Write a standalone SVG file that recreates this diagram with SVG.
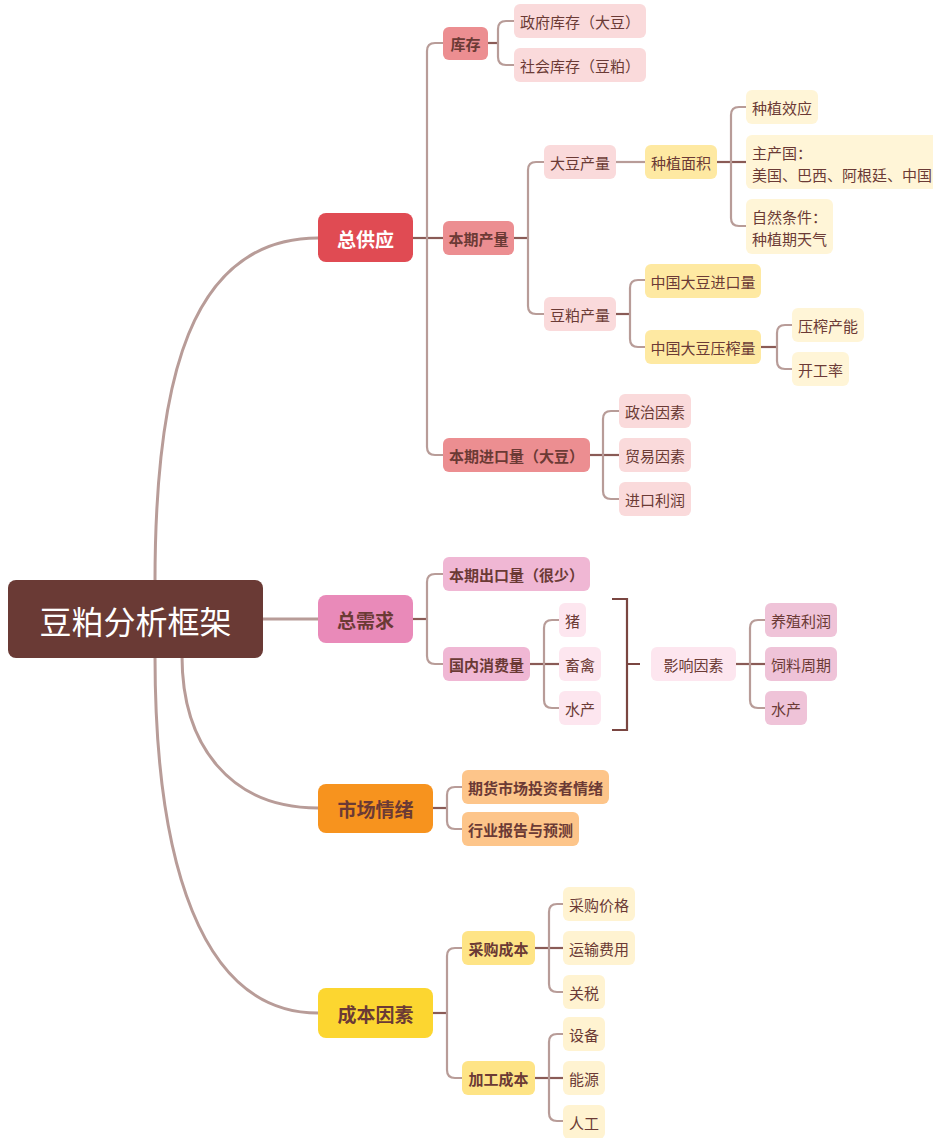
<svg xmlns="http://www.w3.org/2000/svg" width="933" height="1138" viewBox="0 0 933 1138">
<style>
text{font-family:"Noto Sans CJK SC","Noto Sans",sans-serif;dominant-baseline:central;fill:#6b3a35}
.t3{font-size:15px}
.t2{font-size:15px;font-weight:600}
.t1{font-size:19px;font-weight:bold}
.main{fill:none;stroke:#b89c98;stroke-width:3;stroke-linecap:round}
.br{fill:none;stroke:#b89c98;stroke-width:2.2}
.stub{fill:none;stroke:#8a5b56;stroke-width:2.2}
.brk{fill:none;stroke:#7a4641;stroke-width:2.2}
</style>
<rect width="933" height="1138" fill="#ffffff"/>
<g id="connectors">
<path class="main" d="M155 582 C155 380 190 238 318 238"/>
<path class="main" d="M263 619 H318"/>
<path class="main" d="M182 656 C182 745 230 808 318 808"/>
<path class="main" d="M155 656 C155 860 200 1013 318 1013"/>
<path class="stub" d="M413 238 H443"/>
<path class="br" d="M427 238 V51 Q427 43 435 43 H443"/>
<path class="br" d="M427 238 V447 Q427 455 435 455 H443"/>
<path class="stub" d="M488 43 H498"/>
<path class="br" d="M498 43 V29 Q498 21 506 21 H514"/>
<path class="br" d="M498 43 V57 Q498 65 506 65 H514"/>
<path class="stub" d="M514 238 H528"/>
<path class="br" d="M528 238 V170 Q528 162 536 162 H544"/>
<path class="br" d="M528 238 V306 Q528 314 536 314 H544"/>
<path class="br" d="M616 162 H645"/>
<path class="stub" d="M717 162 H746"/>
<path class="br" d="M731 162 V115 Q731 107 739 107 H746"/>
<path class="br" d="M731 162 V218 Q731 226 739 226 H746"/>
<path class="stub" d="M616 314 H630"/>
<path class="br" d="M630 314 V288 Q630 280 638 280 H645"/>
<path class="br" d="M630 314 V339 Q630 347 638 347 H645"/>
<path class="stub" d="M761 347 H777"/>
<path class="br" d="M777 347 V333 Q777 325 785 325 H792"/>
<path class="br" d="M777 347 V361 Q777 369 785 369 H792"/>
<path class="stub" d="M590 455 H619"/>
<path class="br" d="M603 455 V419 Q603 411 611 411 H619"/>
<path class="br" d="M603 455 V491 Q603 499 611 499 H619"/>
<path class="stub" d="M413 619 H427"/>
<path class="br" d="M427 619 V582 Q427 574 435 574 H443"/>
<path class="br" d="M427 619 V656 Q427 664 435 664 H443"/>
<path class="stub" d="M530 664 H559"/>
<path class="br" d="M544 664 V628 Q544 620 552 620 H559"/>
<path class="br" d="M544 664 V700 Q544 708 552 708 H559"/>
<path class="brk" d="M612 599 H627 V730 H612 M627 664 H640"/>
<path class="stub" d="M736 664 H765"/>
<path class="br" d="M750 664 V628 Q750 620 758 620 H765"/>
<path class="br" d="M750 664 V700 Q750 708 758 708 H765"/>
<path class="stub" d="M433 808 H447"/>
<path class="br" d="M447 808 V795 Q447 787 455 787 H462"/>
<path class="br" d="M447 808 V821 Q447 829 455 829 H462"/>
<path class="stub" d="M433 1013 H447"/>
<path class="br" d="M447 1013 V956 Q447 948 455 948 H462"/>
<path class="br" d="M447 1013 V1070 Q447 1078 455 1078 H462"/>
<path class="stub" d="M535 948 H563"/>
<path class="br" d="M549 948 V912 Q549 904 557 904 H563"/>
<path class="br" d="M549 948 V984 Q549 992 557 992 H563"/>
<path class="stub" d="M535 1078 H563"/>
<path class="br" d="M549 1078 V1042 Q549 1034 557 1034 H563"/>
<path class="br" d="M549 1078 V1113 Q549 1121 557 1121 H563"/>
</g>

<g id="root"><rect x="8" y="580" width="255" height="78" rx="8" fill="#6a3a35"/><text x="135.5" y="620" text-anchor="middle" style="font-size:32px;fill:#ffffff">豆粕分析框架</text></g>

<g id="n-supply"><rect x="318" y="213" width="95" height="49" rx="8" fill="#e04b53"/><text class="t1" x="365.5" y="238" text-anchor="middle" style="fill:#ffffff">总供应</text></g>
<g id="n-demand"><rect x="318" y="595" width="95" height="48" rx="8" fill="#e98ab9"/><text class="t1" x="365.5" y="619" text-anchor="middle">总需求</text></g>
<g id="n-sentiment"><rect x="318" y="784" width="115" height="49" rx="8" fill="#f7931e"/><text class="t1" x="375.5" y="808" text-anchor="middle">市场情绪</text></g>
<g id="n-cost"><rect x="318" y="988" width="115" height="50" rx="8" fill="#fcd630"/><text class="t1" x="375.5" y="1013" text-anchor="middle">成本因素</text></g>

<g id="n-stock"><rect x="443" y="27" width="45" height="33" rx="6" fill="#ec8e91"/><text class="t2" x="465.5" y="43.5" text-anchor="middle">库存</text></g>
<g id="n-gov"><rect x="514" y="4" width="132" height="34" rx="6" fill="#fadadb"/><text class="t3" x="580" y="21" text-anchor="middle">政府库存（大豆）</text></g>
<g id="n-soc"><rect x="514" y="48" width="132" height="34" rx="6" fill="#fadadb"/><text class="t3" x="580" y="65" text-anchor="middle">社会库存（豆粕）</text></g>

<g id="n-prod"><rect x="443" y="221" width="71" height="34" rx="6" fill="#ec8e91"/><text class="t2" x="478.5" y="238" text-anchor="middle">本期产量</text></g>
<g id="n-soyprod"><rect x="544" y="145" width="72" height="34" rx="6" fill="#fadadb"/><text class="t3" x="580" y="162" text-anchor="middle">大豆产量</text></g>
<g id="n-area"><rect x="645" y="145" width="72" height="34" rx="6" fill="#fee9a2"/><text class="t3" x="681" y="162" text-anchor="middle">种植面积</text></g>
<g id="n-effect"><rect x="746" y="90" width="72" height="34" rx="6" fill="#fff5d7"/><text class="t3" x="782" y="107" text-anchor="middle">种植效应</text></g>
<g id="n-country"><rect x="746" y="135" width="200" height="54" rx="6" fill="#fff5d7"/><text class="t3" x="752" y="152">主产国：</text><text class="t3" x="752" y="174">美国、巴西、阿根廷、中国</text></g>
<g id="n-nature"><rect x="746" y="199" width="87" height="55" rx="6" fill="#fff5d7"/><text class="t3" x="752" y="216">自然条件：</text><text class="t3" x="752" y="238">种植期天气</text></g>

<g id="n-mealprod"><rect x="544" y="297" width="72" height="34" rx="6" fill="#fadadb"/><text class="t3" x="580" y="314" text-anchor="middle">豆粕产量</text></g>
<g id="n-import"><rect x="645" y="264" width="116" height="34" rx="6" fill="#fee9a2"/><text class="t3" x="703" y="281" text-anchor="middle">中国大豆进口量</text></g>
<g id="n-crush"><rect x="645" y="330" width="116" height="34" rx="6" fill="#fee9a2"/><text class="t3" x="703" y="347" text-anchor="middle">中国大豆压榨量</text></g>
<g id="n-cap"><rect x="792" y="308" width="72" height="34" rx="6" fill="#fff5d7"/><text class="t3" x="828" y="325" text-anchor="middle">压榨产能</text></g>
<g id="n-rate"><rect x="792" y="352" width="57" height="34" rx="6" fill="#fff5d7"/><text class="t3" x="820.5" y="369" text-anchor="middle">开工率</text></g>

<g id="n-imp"><rect x="443" y="438" width="147" height="34" rx="6" fill="#ec8e91"/><text class="t2" x="516.5" y="455" text-anchor="middle">本期进口量（大豆）</text></g>
<g id="n-pol"><rect x="619" y="394" width="72" height="34" rx="6" fill="#fadadb"/><text class="t3" x="655" y="411" text-anchor="middle">政治因素</text></g>
<g id="n-trade"><rect x="619" y="438" width="72" height="34" rx="6" fill="#fadadb"/><text class="t3" x="655" y="455" text-anchor="middle">贸易因素</text></g>
<g id="n-profit"><rect x="619" y="482" width="72" height="34" rx="6" fill="#fadadb"/><text class="t3" x="655" y="499" text-anchor="middle">进口利润</text></g>

<g id="n-export"><rect x="443" y="557" width="147" height="34" rx="6" fill="#f0b7d4"/><text class="t2" x="516.5" y="574" text-anchor="middle">本期出口量（很少）</text></g>
<g id="n-dom"><rect x="443" y="647" width="87" height="34" rx="6" fill="#f0b7d4"/><text class="t2" x="486.5" y="664" text-anchor="middle">国内消费量</text></g>
<g id="n-pig"><rect x="559" y="603" width="27" height="34" rx="6" fill="#fde6ef"/><text class="t3" x="572.5" y="620" text-anchor="middle">猪</text></g>
<g id="n-poultry"><rect x="559" y="647" width="42" height="34" rx="6" fill="#fde6ef"/><text class="t3" x="580" y="664" text-anchor="middle">畜禽</text></g>
<g id="n-aqua"><rect x="559" y="691" width="42" height="34" rx="6" fill="#fde6ef"/><text class="t3" x="580" y="708" text-anchor="middle">水产</text></g>
<g id="n-factor"><rect x="651" y="647" width="85" height="34" rx="6" fill="#fde6ef"/><text class="t3" x="693.5" y="664" text-anchor="middle">影响因素</text></g>
<g id="n-breed"><rect x="765" y="603" width="72" height="34" rx="6" fill="#efc3d8"/><text class="t3" x="801" y="620" text-anchor="middle">养殖利润</text></g>
<g id="n-feed"><rect x="765" y="647" width="72" height="34" rx="6" fill="#efc3d8"/><text class="t3" x="801" y="664" text-anchor="middle">饲料周期</text></g>
<g id="n-aqua2"><rect x="765" y="691" width="42" height="34" rx="6" fill="#efc3d8"/><text class="t3" x="786" y="708" text-anchor="middle">水产</text></g>

<g id="n-fut"><rect x="462" y="770" width="147" height="34" rx="6" fill="#fdc58a"/><text class="t2" x="535.5" y="787" text-anchor="middle">期货市场投资者情绪</text></g>
<g id="n-report"><rect x="462" y="812" width="117" height="34" rx="6" fill="#fdc58a"/><text class="t2" x="520.5" y="829" text-anchor="middle">行业报告与预测</text></g>

<g id="n-purch"><rect x="462" y="931" width="73" height="34" rx="6" fill="#fee486"/><text class="t2" x="498.5" y="948" text-anchor="middle">采购成本</text></g>
<g id="n-price"><rect x="563" y="887" width="72" height="34" rx="6" fill="#fff3d1"/><text class="t3" x="599" y="904" text-anchor="middle">采购价格</text></g>
<g id="n-ship"><rect x="563" y="931" width="72" height="34" rx="6" fill="#fff3d1"/><text class="t3" x="599" y="948" text-anchor="middle">运输费用</text></g>
<g id="n-tariff"><rect x="563" y="975" width="42" height="34" rx="6" fill="#fff3d1"/><text class="t3" x="584" y="992" text-anchor="middle">关税</text></g>
<g id="n-proc"><rect x="462" y="1061" width="73" height="34" rx="6" fill="#fee486"/><text class="t2" x="498.5" y="1078" text-anchor="middle">加工成本</text></g>
<g id="n-equip"><rect x="563" y="1017" width="42" height="34" rx="6" fill="#fff3d1"/><text class="t3" x="584" y="1034" text-anchor="middle">设备</text></g>
<g id="n-energy"><rect x="563" y="1061" width="42" height="34" rx="6" fill="#fff3d1"/><text class="t3" x="584" y="1078" text-anchor="middle">能源</text></g>
<g id="n-labor"><rect x="563" y="1105" width="42" height="34" rx="6" fill="#fff3d1"/><text class="t3" x="584" y="1122" text-anchor="middle">人工</text></g>
</svg>
